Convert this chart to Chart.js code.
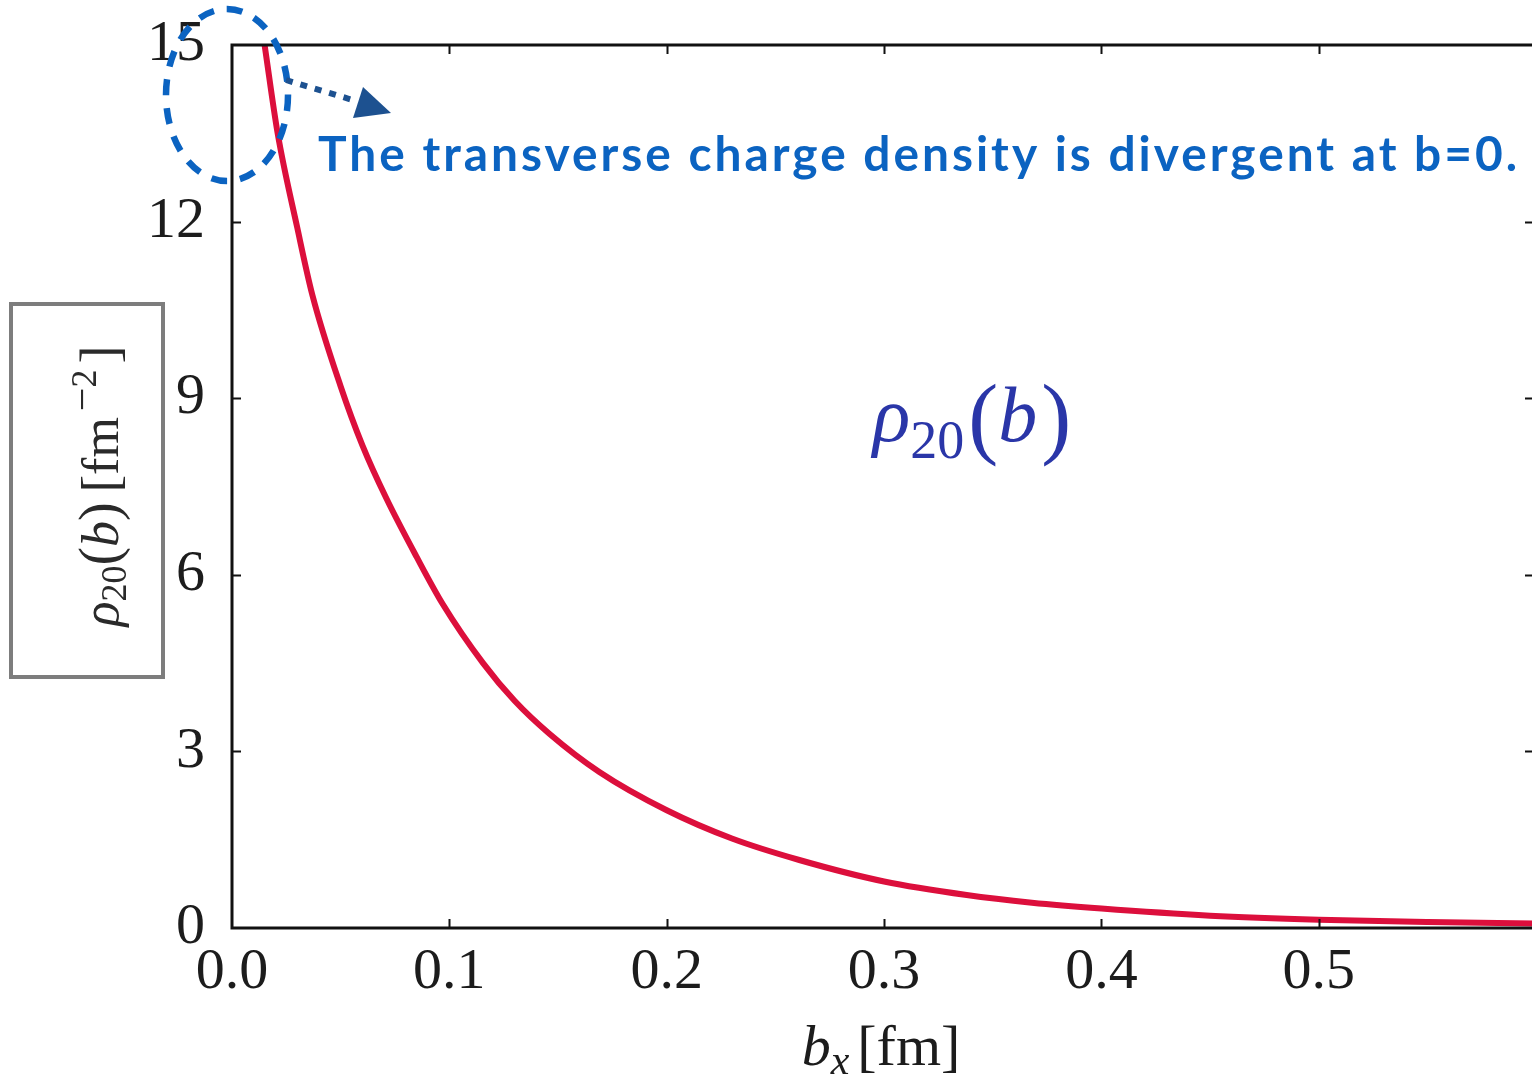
<!DOCTYPE html>
<html>
<head>
<meta charset="utf-8">
<script src="https://cdn.jsdelivr.net/npm/chart.js@4"></script>
<style>
  html, body { margin: 0; padding: 0; background: #fff; overflow: hidden; }
  canvas { display: block; }
</style>
</head>
<body>
<canvas id="c" width="1536" height="1081"></canvas>
<script>
// transverse impact parameter b_x [fm]
const bx = [0.015, 0.021, 0.030, 0.037, 0.050, 0.060, 0.071, 0.085, 0.097, 0.1155,
            0.130, 0.146, 0.169, 0.200, 0.230, 0.261, 0.300, 0.338, 0.368, 0.400,
            0.450, 0.500, 0.550, 0.599];
// rho_20(b) [fm^-2]
const rho20 = [15.0, 13.5, 11.9, 10.75, 9.2, 8.2, 7.3, 6.3, 5.5, 4.5,
               3.86, 3.30, 2.65, 2.00, 1.52, 1.155, 0.79, 0.56, 0.43, 0.33,
               0.21, 0.14, 0.10, 0.075];
const xTicks = [0.0, 0.1, 0.2, 0.3, 0.4, 0.5];
const yTicks = [0, 3, 6, 9, 12, 15];
const xMax = 0.599;

const SERIF = '"Liberation Serif", serif';
const INK = '#1c1c1c';

// draw a run of mixed-style text (italic / sub / superscript) along a baseline
function runsWidth(ctx, runs) {
  let w = 0;
  for (const r of runs) {
    if (r.gap) { w += r.gap; continue; }
    ctx.font = (r.italic ? 'italic ' : '') + r.size + 'px ' + SERIF;
    w += ctx.measureText(r.t).width;
  }
  return w;
}
function drawRuns(ctx, cx, baseY, runs, color) {
  const w = runsWidth(ctx, runs);
  let x = cx - w / 2;
  ctx.fillStyle = color;
  ctx.textAlign = 'left';
  ctx.textBaseline = 'alphabetic';
  for (const r of runs) {
    if (r.gap) { x += r.gap; continue; }
    ctx.font = (r.italic ? 'italic ' : '') + r.size + 'px ' + SERIF;
    ctx.fillText(r.t, x, baseY + (r.dy || 0));
    x += ctx.measureText(r.t).width;
  }
}

// frame with inward ticks on all four sides
const framePlugin = {
  id: 'frame',
  afterDatasetsDraw(chart) {
    const { ctx, chartArea: a, scales: { x, y } } = chart;
    ctx.save();
    ctx.strokeStyle = '#111';
    ctx.lineWidth = 3;
    ctx.strokeRect(a.left, a.top, a.right - a.left, a.bottom - a.top);
    ctx.lineWidth = 2;
    const L = 9;
    ctx.beginPath();
    xTicks.forEach(v => {
      if (v <= 0) return;
      const px = Math.round(x.getPixelForValue(v)) + 0.5;
      ctx.moveTo(px, a.bottom); ctx.lineTo(px, a.bottom - L);
      ctx.moveTo(px, a.top); ctx.lineTo(px, a.top + L);
    });
    yTicks.forEach(v => {
      if (v <= 0 || v >= 15) return;
      const py = Math.round(y.getPixelForValue(v)) + 0.5;
      ctx.moveTo(a.left, py); ctx.lineTo(a.left + L, py);
      ctx.moveTo(a.right, py); ctx.lineTo(a.right - L, py);
    });
    ctx.stroke();
    ctx.restore();
  }
};

// axis titles, curve label and the note about b = 0
const notesPlugin = {
  id: 'notes',
  afterDraw(chart) {
    const { ctx } = chart;
    ctx.save();

    // x-axis title: b_x [fm]
    drawRuns(ctx, 881, 1065, [
      { t: 'b', size: 58, italic: true },
      { t: 'x', size: 42, italic: true, dy: 9 },
      { gap: 8 },
      { t: '[fm]', size: 58 }
    ], INK);

    // y-axis title in a grey box: rho_20(b) [fm^-2]
    ctx.strokeStyle = '#7d7d7d';
    ctx.lineWidth = 4;
    ctx.strokeRect(11, 304, 152, 373);
    ctx.save();
    ctx.translate(118, 486);
    ctx.rotate(-Math.PI / 2);
    drawRuns(ctx, 0, 0, [
      { t: 'ρ', size: 52, italic: true },
      { t: '20', size: 36, dy: 8 },
      { t: '(', size: 56 },
      { t: 'b', size: 52, italic: true },
      { t: ')', size: 56 },
      { gap: 10 },
      { t: '[fm', size: 52 },
      { gap: 6 },
      { t: '−', size: 42, dy: -22 },
      { t: '2', size: 36, dy: -22 },
      { gap: 6 },
      { t: ']', size: 54 }
    ], '#2a2a2a');
    ctx.restore();

    // curve label
    drawRuns(ctx, 972, 441, [
      { t: 'ρ', size: 78, italic: true },
      { t: '20', size: 54, dy: 17 },
      { gap: 4 },
      { t: '(', size: 90, dy: 6 },
      { t: 'b', size: 78, italic: true },
      { gap: 4 },
      { t: ')', size: 90, dy: 6 }
    ], '#2a36a8');

    // dashed ring around the divergence at b = 0
    ctx.strokeStyle = '#0b63c1';
    ctx.lineWidth = 6.5;
    ctx.setLineDash([16, 13]);
    ctx.beginPath();
    ctx.ellipse(227, 95, 61, 86, 0, 0, Math.PI * 2);
    ctx.stroke();

    // dotted pointer with a triangular head
    ctx.strokeStyle = '#1d5190';
    ctx.setLineDash([7, 8]);
    ctx.lineWidth = 6;
    ctx.beginPath();
    ctx.moveTo(286, 80);
    ctx.lineTo(356, 101);
    ctx.stroke();
    ctx.setLineDash([]);
    ctx.fillStyle = '#1d5190';
    ctx.beginPath();
    ctx.moveTo(363, 87);
    ctx.lineTo(391, 113);
    ctx.lineTo(353, 118);
    ctx.closePath();
    ctx.fill();

    // note text
    const note = 'The transverse charge density is divergent at b=0.';
    ctx.font = 'bold 48px Lato, "DejaVu Sans", sans-serif';
    const w = ctx.measureText(note).width;
    const target = 1202;
    if (w < target) ctx.letterSpacing = ((target - w) / (note.length - 1)).toFixed(2) + 'px';
    ctx.fillStyle = '#0b63c1';
    ctx.textAlign = 'left';
    ctx.textBaseline = 'alphabetic';
    ctx.fillText(note, 318, 171, target);
    ctx.restore();
  }
};

const tickFont = { family: SERIF, size: 58 };

new Chart(document.getElementById('c'), {
  type: 'line',
  data: {
    datasets: [{
      data: bx.map((v, i) => ({ x: v, y: rho20[i] })),
      borderColor: '#dc0f3c',
      borderWidth: 6,
      pointRadius: 0,
      fill: false,
      cubicInterpolationMode: 'monotone'
    }]
  },
  options: {
    responsive: false,
    animation: false,
    events: [],
    layout: { padding: { top: 45, right: 2, left: 0, bottom: 0 } },
    plugins: { legend: { display: false }, tooltip: { enabled: false } },
    scales: {
      x: {
        type: 'linear',
        min: 0,
        max: xMax,
        afterBuildTicks: s => { s.ticks = xTicks.map(v => ({ value: v })); },
        afterFit: s => { s.height = 153; s.paddingLeft = 0; s.paddingRight = 0; },
        grid: { display: false, drawTicks: false },
        border: { display: false },
        ticks: {
          font: tickFont, color: INK, padding: 10,
          autoSkip: false, maxRotation: 0,
          callback: v => Number(v).toFixed(1)
        }
      },
      y: {
        type: 'linear',
        min: 0,
        max: 15,
        afterBuildTicks: s => { s.ticks = yTicks.map(v => ({ value: v })); },
        afterFit: s => { s.width = 232; s.paddingTop = 0; s.paddingBottom = 0; },
        grid: { display: false, drawTicks: false },
        border: { display: false },
        ticks: {
          font: tickFont, color: INK, padding: 27,
          autoSkip: false,
          callback: v => String(v)
        }
      }
    }
  },
  plugins: [framePlugin, notesPlugin]
});
</script>
</body>
</html>
